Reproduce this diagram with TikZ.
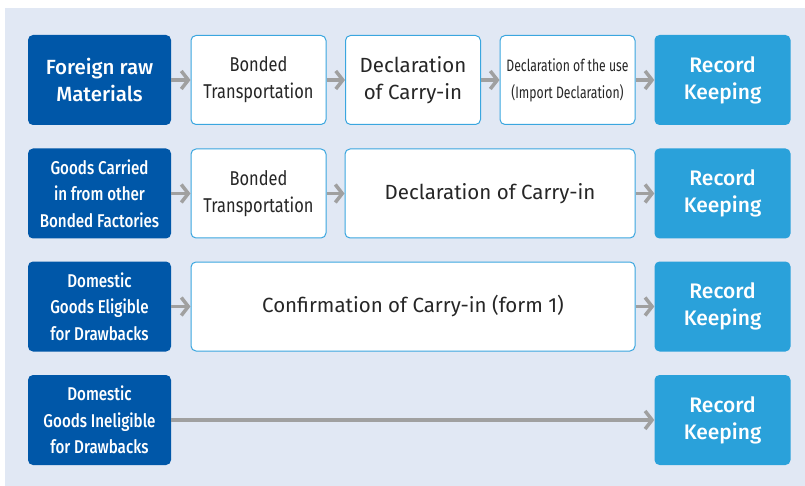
\documentclass[tikz,border=0pt]{standalone}
\usepackage{fontspec}
\setmainfont{Fira Sans}[BoldFont={* Medium}]
\newfontfamily\narrowfont{Fira Sans}[BoldFont={* Medium}, FakeStretch=0.82]
\newfontfamily\slimfont{Fira Sans}[FakeStretch=0.74]
\usepackage{xcolor}
\usetikzlibrary{arrows.meta}

\definecolor{panel}{HTML}{E1E8F4}
\definecolor{darkblue}{HTML}{0057A8}
\definecolor{lightblue}{HTML}{2AA1DA}
\definecolor{edgeblue}{HTML}{3AA6DF}
\definecolor{arrowgray}{HTML}{A0A0A0}

\tikzset{
    srcbox/.style={fill=darkblue, rounded corners=5pt, minimum width=143pt, minimum height=90pt,
        text=white, align=center, inner sep=0pt},
    stepbox/.style={fill=white, draw=edgeblue, line width=1pt, rounded corners=5pt, minimum height=89pt,
        text=black!85, align=center, inner sep=0pt},
    recbox/.style={fill=lightblue, rounded corners=5pt, minimum width=136pt, minimum height=90pt,
        text=white, align=center, inner sep=0pt, font=\bfseries\fontsize{21}{27}\selectfont},
    flow/.style={draw=arrowgray, line width=3.5pt, -{Straight Barb[length=7pt,width=18pt,line width=3.5pt]}}
}

\begin{document}
\begin{tikzpicture}[x=1pt, y=-1pt]
    \useasboundingbox (0,0) rectangle (805,486);
    \fill[panel] (5,8) rectangle (805,486);

    % row 1
    \node[srcbox, font=\bfseries\fontsize{20.5}{27}\selectfont] (src1) at (99.5,80) {Foreign raw\\Materials};
    \node[stepbox, minimum width=135pt, font=\narrowfont\fontsize{20}{27}\selectfont] (bond1) at (258.5,80) {Bonded\\Transportation};
    \node[stepbox, minimum width=135pt, font=\fontsize{20.5}{27}\selectfont] (decl1) at (413,80) {Declaration\\of Carry-in};
    \node[stepbox, minimum width=135pt, font=\slimfont\fontsize{16.5}{27}\selectfont] (use1) at (567.5,80) {Declaration of the use\\(Import Declaration)};
    \node[recbox] (rec1) at (722.5,80) {Record\\Keeping};

    % row 2
    \node[srcbox, font=\narrowfont\bfseries\fontsize{18.5}{26.5}\selectfont] (src2) at (99.5,193.5) {Goods Carried\\in from other\\Bonded Factories};
    \node[stepbox, minimum width=135pt, font=\narrowfont\fontsize{20}{27}\selectfont] (bond2) at (258.5,193.5) {Bonded\\Transportation};
    \node[stepbox, minimum width=290pt, font=\fontsize{20.5}{27}\selectfont] (decl2) at (490,193.5) {Declaration of Carry-in};
    \node[recbox] (rec2) at (722.5,193.5) {Record\\Keeping};

    % row 3
    \node[srcbox, font=\narrowfont\bfseries\fontsize{18.5}{26.5}\selectfont] (src3) at (99.5,306.5) {Domestic\\Goods Eligible\\for Drawbacks};
    \node[stepbox, minimum width=444pt, font=\fontsize{20.5}{27}\selectfont] (conf3) at (413,306.5) {Confirmation of Carry-in (form 1)};
    \node[recbox] (rec3) at (722.5,306.5) {Record\\Keeping};

    % row 4
    \node[srcbox, font=\narrowfont\bfseries\fontsize{18.5}{26.5}\selectfont] (src4) at (99.5,420) {Domestic\\Goods Ineligible\\for Drawbacks};
    \node[recbox] (rec4) at (722.5,420) {Record\\Keeping};

    \draw[flow] (src1) -- (bond1);
    \draw[flow] (bond1) -- (decl1);
    \draw[flow] (decl1) -- (use1);
    \draw[flow] (use1) -- (rec1);

    \draw[flow] (src2) -- (bond2);
    \draw[flow] (bond2) -- (decl2);
    \draw[flow] (decl2) -- (rec2);

    \draw[flow] (src3) -- (conf3);
    \draw[flow] (conf3) -- (rec3);

    \draw[flow] (src4) -- (rec4);
\end{tikzpicture}
\end{document}
